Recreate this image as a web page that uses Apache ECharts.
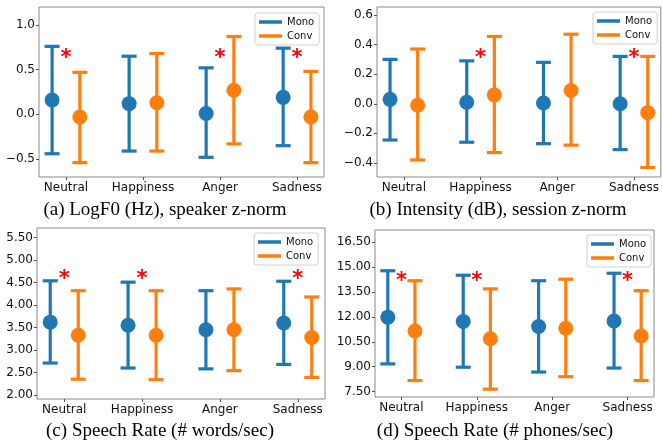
<!DOCTYPE html>
<html><head><meta charset="utf-8">
<script src="https://cdn.jsdelivr.net/npm/echarts@6/dist/echarts.min.js"></script>
<style>html,body{margin:0;padding:0;background:#fff}#c{width:662px;height:443px}</style>
</head><body><div id="c"></div>
<script>
const categories = ['Neutral','Happiness','Anger','Sadness'];

// (a) LogF0
const aMonoMean = [0.16, 0.12, 0.01, 0.19];
const aMonoLow  = [-0.44, -0.41, -0.48, -0.35];
const aMonoHigh = [0.76, 0.65, 0.52, 0.74];
const aConvMean = [-0.03, 0.13, 0.27, -0.03];
const aConvLow  = [-0.54, -0.41, -0.33, -0.54];
const aConvHigh = [0.47, 0.68, 0.87, 0.48];
const aSig = [[0, 0.68], [2, 0.68], [3, 0.68]];
const aTickValues = [-0.5, 0, 0.5, 1.0];
const aTickLabels = ['\u22120.5', '0.0', '0.5', '1.0'];

// (b) Intensity
const bMonoMean = [0.03, 0.01, 0.005, 0.0];
const bMonoLow  = [-0.245, -0.26, -0.27, -0.31];
const bMonoHigh = [0.30, 0.29, 0.28, 0.32];
const bConvMean = [-0.01, 0.06, 0.09, -0.06];
const bConvLow  = [-0.38, -0.33, -0.28, -0.43];
const bConvHigh = [0.37, 0.455, 0.47, 0.32];
const bSig = [[1, 0.34], [3, 0.34]];
const bTickValues = [-0.4, -0.2, 0, 0.2, 0.4, 0.6];
const bTickLabels = ['\u22120.4', '\u22120.2', '0.0', '0.2', '0.4', '0.6'];

// (c) Speech rate words/sec
const cMonoMean = [3.62, 3.55, 3.45, 3.60];
const cMonoLow  = [2.71, 2.60, 2.58, 2.68];
const cMonoHigh = [4.54, 4.51, 4.32, 4.53];
const cConvMean = [3.33, 3.33, 3.45, 3.28];
const cConvLow  = [2.35, 2.34, 2.54, 2.39];
const cConvHigh = [4.32, 4.32, 4.36, 4.18];
const cSig = [[0, 4.67], [1, 4.67], [3, 4.67]];
const cTickValues = [2.0, 2.5, 3.0, 3.5, 4.0, 4.5, 5.0, 5.5];
const cTickLabels = ['2.00', '2.50', '3.00', '3.50', '4.00', '4.50', '5.00', '5.50'];

// (d) Speech rate phones/sec
const dMonoMean = [11.98, 11.72, 11.42, 11.75];
const dMonoLow  = [9.17, 8.97, 8.68, 8.92];
const dMonoHigh = [14.77, 14.50, 14.17, 14.62];
const dConvMean = [11.15, 10.68, 11.31, 10.85];
const dConvLow  = [8.17, 7.65, 8.40, 8.17];
const dConvHigh = [14.17, 13.68, 14.26, 13.57];
const dSig = [[0, 14.4], [1, 14.4], [3, 14.4]];
const dTickValues = [7.5, 9.0, 10.5, 12.0, 13.5, 15.0, 16.5];
const dTickLabels = ['7.50', '9.00', '10.50', '12.00', '13.50', '15.00', '16.50'];

const captions = ['(a) LogF0 (Hz), speaker z-norm', '(b) Intensity (dB), session z-norm',
                  '(c) Speech Rate (# words/sec)', '(d) Speech Rate (# phones/sec)'];

const BLUE = '#1f77b4', ORANGE = '#ff7f0e';
const FONT = 'DejaVu Sans';

const panels = [
  {mono:[aMonoMean,aMonoLow,aMonoHigh], conv:[aConvMean,aConvLow,aConvHigh], sig:aSig, tv:aTickValues, tl:aTickLabels,
   grid:{left:39,top:7,width:285,height:170}, y:[-0.7,1.2], legend:{left:255,top:13}, cap:[165,210]},
  {mono:[bMonoMean,bMonoLow,bMonoHigh], conv:[bConvMean,bConvLow,bConvHigh], sig:bSig, tv:bTickValues, tl:bTickLabels,
   grid:{left:377,top:7,width:284,height:170}, y:[-0.495,0.654], legend:{left:593,top:12}, cap:[498,210]},
  {mono:[cMonoMean,cMonoLow,cMonoHigh], conv:[cConvMean,cConvLow,cConvHigh], sig:cSig, tv:cTickValues, tl:cTickLabels,
   grid:{left:37,top:228,width:288,height:171}, y:[1.91,5.715], legend:{left:254,top:233}, cap:[160,431]},
  {mono:[dMonoMean,dMonoLow,dMonoHigh], conv:[dConvMean,dConvLow,dConvHigh], sig:dSig, tv:dTickValues, tl:dTickLabels,
   grid:{left:375,top:230,width:279,height:167}, y:[7.18,17.22], legend:{left:587,top:235}, cap:[495,431]}
];

function errRender(offset){
  return function(params, api){
    const x = api.value(0) + offset;
    const m = api.coord([x, api.value(1)]);
    const lo = api.coord([x, api.value(2)]);
    const hi = api.coord([x, api.value(3)]);
    const color = api.visual('color');
    const lw = 3.2, cw = 7.5;
    return {type:'group', children:[
      {type:'line', shape:{x1:m[0],y1:lo[1],x2:m[0],y2:hi[1]}, style:{stroke:color,lineWidth:lw}},
      {type:'line', shape:{x1:m[0]-cw,y1:lo[1],x2:m[0]+cw,y2:lo[1]}, style:{stroke:color,lineWidth:lw}},
      {type:'line', shape:{x1:m[0]-cw,y1:hi[1],x2:m[0]+cw,y2:hi[1]}, style:{stroke:color,lineWidth:lw}},
      {type:'circle', shape:{cx:m[0],cy:m[1],r:7.5}, style:{fill:color}}
    ]};
  };
}
function sigRender(params, api){
  const p = api.coord([api.value(0), api.value(1)]);
  return {type:'text', x:p[0], y:p[1]+5, style:{text:'*', fill:'#ff0000', font:'bold 21px "DejaVu Sans"', align:'center', verticalAlign:'middle'}};
}

const option = {animation:false, backgroundColor:'#fff', grid:[], xAxis:[], yAxis:[], series:[], legend:[], graphic:[]};
panels.forEach((p, k) => {
  option.grid.push(Object.assign({show:true, borderColor:'#8a8a8a', borderWidth:1, backgroundColor:'transparent'}, p.grid));
  option.xAxis.push({type:'value', gridIndex:k, min:-0.35, max:3.35, position:'bottom',
    axisLine:{show:false, onZero:false}, splitLine:{show:false},
    axisTick:{show:true, customValues:[0,1,2,3], length:3, lineStyle:{color:'#555'}},
    axisLabel:{customValues:[0,1,2,3], formatter:v=>categories[Math.round(v)], fontFamily:FONT, fontSize:12, color:'#111', margin:5}
  });
  option.yAxis.push({type:'value', gridIndex:k, min:p.y[0], max:p.y[1], position:'left',
    axisLine:{show:false, onZero:false}, splitLine:{show:false},
    axisTick:{show:true, customValues:p.tv, length:3, lineStyle:{color:'#555'}},
    axisLabel:{customValues:p.tv, formatter:v=>{const i=p.tv.findIndex(t=>Math.abs(t-v)<1e-6); return i>=0?p.tl[i]:'';}, fontFamily:FONT, fontSize:12, color:'#111', margin:4}
  });
  const mk = arr => categories.map((c,i)=>[i, arr[0][i], arr[1][i], arr[2][i]]);
  option.series.push({type:'custom', name:'Mono', xAxisIndex:k, yAxisIndex:k, itemStyle:{color:BLUE},
    renderItem:errRender(-0.18), encode:{x:0,y:[1,2,3]}, data:mk(p.mono)});
  option.series.push({type:'custom', name:'Conv', xAxisIndex:k, yAxisIndex:k, itemStyle:{color:ORANGE},
    renderItem:errRender(0.18), encode:{x:0,y:[1]}, data:mk(p.conv)});
  option.series.push({type:'custom', name:'sig', xAxisIndex:k, yAxisIndex:k, renderItem:sigRender, encode:{x:0,y:1}, data:p.sig, z:5});
  option.legend.push({data:['Mono','Conv'], orient:'vertical', left:p.legend.left, top:p.legend.top,
    icon:'rect', itemWidth:23, itemHeight:3.5, itemGap:2, itemTextGap:7, selectedMode:false,
    borderColor:'#d0d0d0', borderWidth:1, borderRadius:3, padding:[3,5,3,4], backgroundColor:'#fff',
    textStyle:{fontFamily:FONT, fontSize:10, color:'#111', lineHeight:12}});
  option.graphic.push({type:'text', x:p.cap[0], y:p.cap[1], style:{text:captions[k], font:'19px "Liberation Serif"', fill:'#000', align:'center', verticalAlign:'middle'}});
});

const chart = echarts.init(document.getElementById('c'), null, {renderer:'canvas'});
chart.setOption(option);
</script>
</body></html>
